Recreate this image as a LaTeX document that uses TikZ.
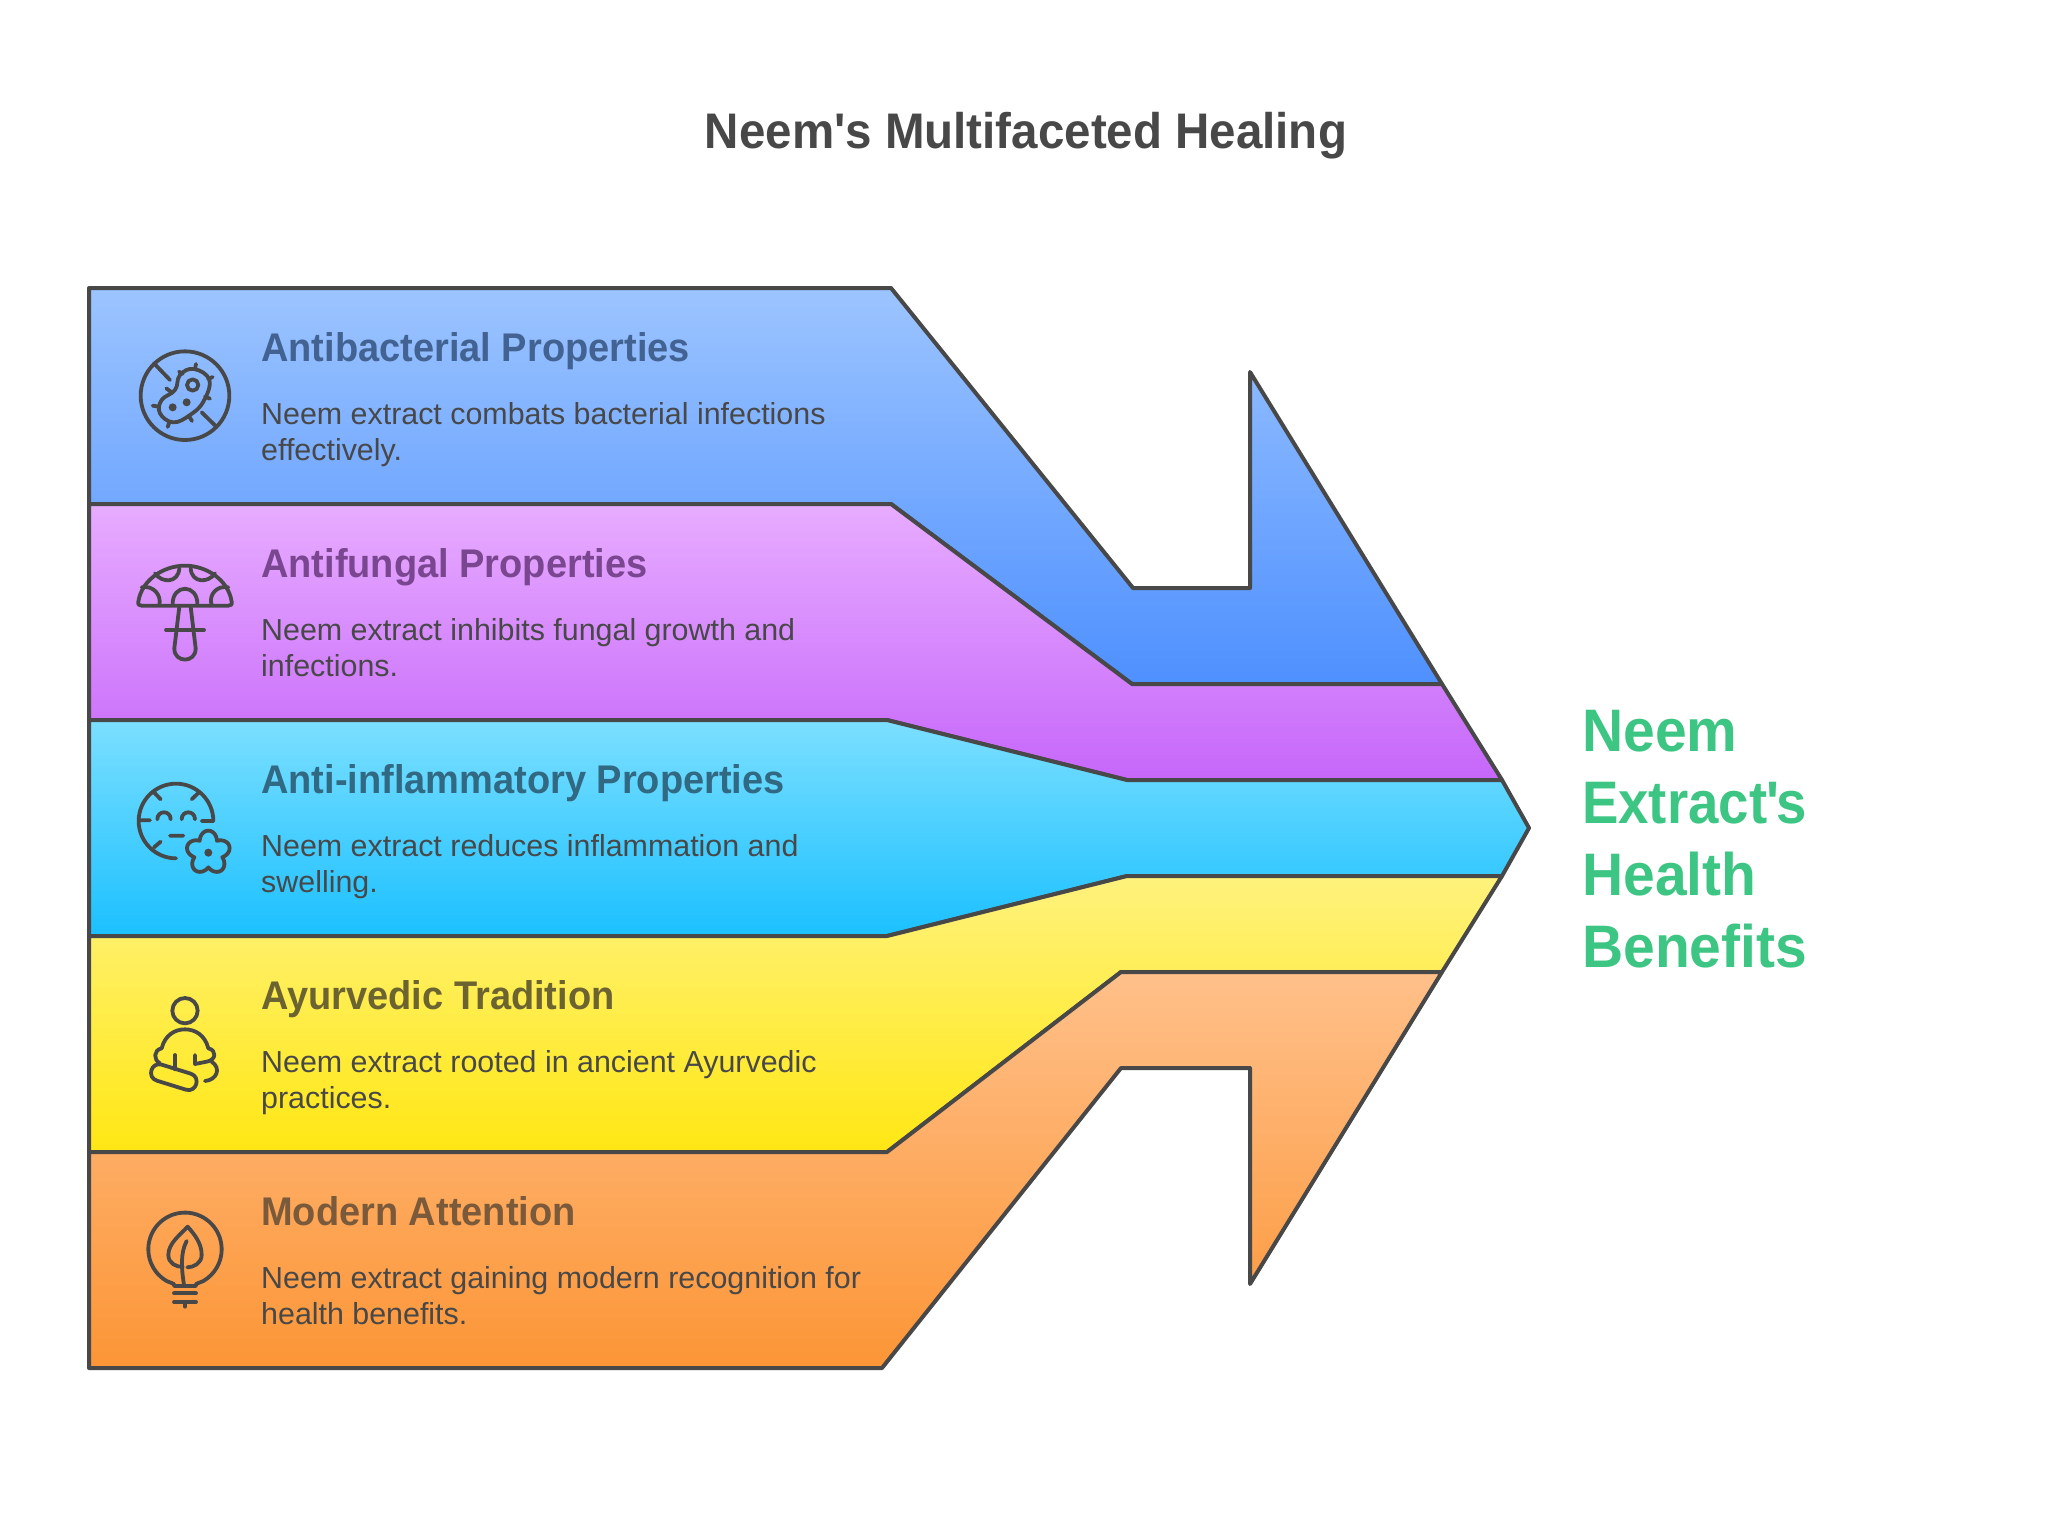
\documentclass[tikz,border=0pt]{standalone}
\usepackage{fontspec}
\newfontfamily\lsans{Liberation Sans}
\newfontfamily\lsansn{Liberation Sans}[FakeStretch=0.95]
\newfontfamily\lsansx{Liberation Sans}[FakeStretch=0.91]
\definecolor{ink}{HTML}{484848}
\definecolor{hblue}{HTML}{426292}
\definecolor{hpurple}{HTML}{7A468F}
\definecolor{hcyan}{HTML}{316882}
\definecolor{hyellow}{HTML}{6B6431}
\definecolor{horange}{HTML}{7A5A3B}
\definecolor{resgreen}{HTML}{3CC583}
\definecolor{blueT}{HTML}{9CC4FF}
\definecolor{blueB}{HTML}{4E90FF}
\definecolor{purpT}{HTML}{E7ACFF}
\definecolor{purpB}{HTML}{C666FA}
\definecolor{cyanT}{HTML}{7CDFFF}
\definecolor{cyanB}{HTML}{1BC0FF}
\definecolor{yellT}{HTML}{FFF27D}
\definecolor{yellB}{HTML}{FFE714}
\definecolor{oranT}{HTML}{FFC08A}
\definecolor{oranB}{HTML}{FC9536}
\tikzset{
  x=1pt,y=-1pt,
  band/.style={draw=ink,line width=4pt,line join=round},
  ico/.style={draw=ink,line width=3.8pt,line cap=round,line join=round},
  dotf/.style={fill=ink,draw=none},
  iconzoom/.style={x=0.33333pt,y=-0.33333pt},
  head/.style={anchor=base west,inner sep=0pt,font=\lsansn\fontsize{40}{46}\selectfont\bfseries},
  body/.style={anchor=base west,inner sep=0pt,text=ink,font=\lsans\fontsize{30.4}{36}\selectfont},
  ttl/.style={anchor=base,inner sep=0pt,text=ink,font=\lsansn\fontsize{50}{56}\selectfont\bfseries},
  res/.style={anchor=base west,inner sep=0pt,text=resgreen,font=\lsansn\fontsize{60}{72}\selectfont\bfseries},
}
\newcommand{\lns}[2]{\parbox[t]{720pt}{\raggedright #1\\#2}}
\begin{document}
\begin{tikzpicture}
\useasboundingbox (0,0) rectangle (2049,1536);
\fill[white] (0,0) rectangle (2049,1536);
% bands
\path[band,top color=blueT,bottom color=blueB]
  (89,288) -- (891,288) -- (1133,588) -- (1250,588) -- (1250,372) -- (1442,684) -- (1132,684) -- (891,504) -- (89,504) -- cycle;
\path[band,top color=purpT,bottom color=purpB]
  (89,504) -- (891,504) -- (1132,684) -- (1442,684) -- (1502,780) -- (1127,780) -- (887,720) -- (89,720) -- cycle;
\path[band,top color=cyanT,bottom color=cyanB]
  (89,720) -- (887,720) -- (1127,780) -- (1502,780) -- (1529,828) -- (1502,876) -- (1127,876) -- (887,936) -- (89,936) -- cycle;
\path[band,top color=yellT,bottom color=yellB]
  (89,936) -- (887,936) -- (1127,876) -- (1502,876) -- (1442,972) -- (1121,972) -- (887,1152) -- (89,1152) -- cycle;
\path[band,top color=oranT,bottom color=oranB]
  (89,1152) -- (887,1152) -- (1121,972) -- (1442,972) -- (1250,1284) -- (1250,1068) -- (1121,1068) -- (882,1368) -- (89,1368) -- cycle;
% text
\node[ttl] (title) at (1026,148) {Neem's Multifaceted Healing};
\node[head,text=hblue] (h1) at (261,361) {Antibacterial Properties};
\node[body] (b1) at (261,424) {\lns{Neem extract combats bacterial infections}{effectively.}};
\node[head,text=hpurple] (h2) at (261,577) {Antifungal Properties};
\node[body] (b2) at (261,640) {\lns{Neem extract inhibits fungal growth and}{infections.}};
\node[head,text=hcyan] (h3) at (261,793) {Anti-inflammatory Properties};
\node[body] (b3) at (261,856) {\lns{Neem extract reduces inflammation and}{swelling.}};
\node[head,text=hyellow] (h4) at (261,1009) {Ayurvedic Tradition};
\node[body] (b4) at (261,1072) {\lns{Neem extract rooted in ancient Ayurvedic}{practices.}};
\node[head,text=horange] (h5) at (261,1225) {Modern Attention};
\node[body] (b5) at (261,1288) {\lns{Neem extract gaining modern recognition for}{health benefits.}};
\node[res] (r1) at (1582,751) {Neem};
\node[res,font=\lsansx\fontsize{60}{72}\selectfont\bfseries] (r2) at (1582,823) {Extract\kern-1pt'\kern-3pt s};
\node[res] (r3) at (1582,895) {Health};
\node[res] (r4) at (1582,967) {Benefits};
% icon 1
\begin{scope}[shift={(100,300)},iconzoom]
\draw[ico] (255,287) circle[radius=133];
\draw[ico] (162,190)--(210,240) (305,337)--(347,378);
\draw[ico] plot[smooth cycle,tension=.7] coordinates {(282,207)(328,240)(310,305)(270,345)(220,367)(180,340)(185,300)(225,270)(240,225)};
\draw[ico] (288,192)--(285,207) (237,215)--(248,222) (338,231)--(325,237) (330,296)--(315,290) (199,265)--(215,277) (158,317)--(177,320) (203,381)--(208,367) (276,363)--(268,350);
\draw[ico] (278,255) circle[radius=17];
\fill[dotf] (218,322) circle[radius=12] (260,307) circle[radius=12];
\end{scope}
% icon 2
\begin{scope}[shift={(100,300)},iconzoom]
\draw[ico] (115,905) .. controls (125,840) and (190,797) .. (255,797) .. controls (320,797) and (385,840) .. (395,905) .. controls (397,914) and (392,917) .. (385,917) -- (125,917) .. controls (118,917) and (113,914) .. (115,905) -- cycle;
\draw[ico] (165,820) .. controls (185,850) and (235,850) .. (238,805);
\draw[ico] (272,805) .. controls (275,850) and (325,850) .. (345,820);
\draw[ico] (125,862) .. controls (160,855) and (185,885) .. (178,915);
\draw[ico] (385,862) .. controls (350,855) and (325,885) .. (335,915);
\draw[ico] (218,915) .. controls (215,850) and (295,850) .. (292,915);
\draw[ico] (238,920) -- (223,1045) .. controls (222,1090) and (288,1090) .. (287,1045) -- (272,920);
\draw[ico] (198,990) -- (312,990);
\end{scope}
% icon 3
\begin{scope}[shift={(100,740)},iconzoom]
\draw[ico] (340,243) arc[start angle=0,end angle=-270,radius=112];
\draw[ico] (162,157)--(182,178) (297,157)--(275,178) (118,241)--(150,241) (305,243)--(340,243) (162,322)--(182,305) (210,287)--(250,287);
\draw[ico] (172,238) .. controls (172,210) and (212,210) .. (212,238);
\draw[ico] (245,238) .. controls (245,210) and (285,210) .. (285,238);
\draw[ico] plot[domain=0:360,samples=121,variable=\t] ({325+(44+22*abs(cos(2.5*\t)))*sin(\t)},{338-(44+22*abs(cos(2.5*\t)))*cos(\t)}) -- cycle;
\fill[dotf] (325,338) circle[radius=12];
\end{scope}
% icon 4
\begin{scope}[shift={(100,740)},iconzoom]
\draw[ico] (255,812) circle[radius=38];
\draw[ico] (180,970) .. controls (160,960) and (160,930) .. (185,925) .. controls (195,885) and (225,868) .. (255,868) .. controls (285,868) and (315,885) .. (325,925) .. controls (350,930) and (350,960) .. (320,965) -- (285,972) -- (285,945);
\draw[ico] (225,945) -- (225,988);
\draw[ico] (185.4,974) -- (272.4,1001) .. controls (304,1011) and (289,1059) .. (257.6,1049) -- (170.6,1022) .. controls (139,1012) and (154,964) .. (185.4,974) -- cycle;
\draw[ico] (335,965) .. controls (365,985) and (350,1020) .. (315,1023);
\end{scope}
% icon 5
\begin{scope}[shift={(100,1180)},iconzoom]
\draw[ico] (222,318) -- (222,312) -- (200,303) arc[start angle=120,end angle=420,radius=110] -- (288,312) -- (288,318) -- cycle;
\draw[ico] (222,340)--(288,340) (222,366)--(288,366) (255,366)--(255,380);
\draw[ico] (248,260) .. controls (230,262) and (205,250) .. (205,225) .. controls (205,190) and (240,165) .. (263,140) .. controls (285,165) and (305,190) .. (305,225) .. controls (305,250) and (280,262) .. (262,262);
\draw[ico] (260,183) .. controls (240,220) and (245,270) .. (252,315);
\end{scope}
\end{tikzpicture}
\end{document}
